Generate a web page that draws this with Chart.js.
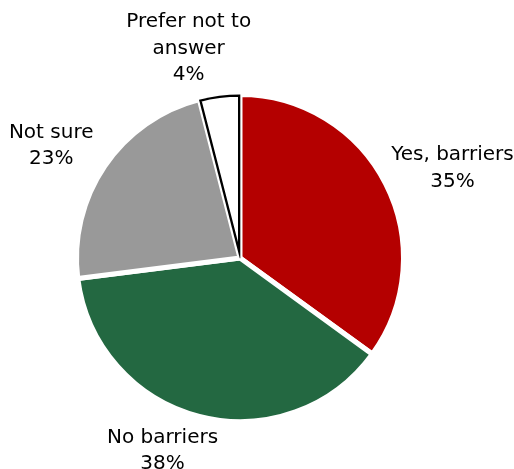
<!DOCTYPE html>
<html>
<head>
<meta charset="utf-8">
<script src="https://cdn.jsdelivr.net/npm/chart.js@4/dist/chart.umd.min.js"></script>
<style>
  html, body { margin: 0; padding: 0; background: #fff; }
  canvas { display: block; }
</style>
</head>
<body>
<canvas id="pie" width="514" height="469"></canvas>
<script>
// survey answers
const categories = ['Yes, barriers', 'No barriers', 'Not sure', 'Prefer not to answer'];
const shares = [35, 38, 23, 4];
const labelLines = [['Yes, barriers'], ['No barriers'], ['Not sure'], ['Prefer not to', 'answer']];

const fills = ['#b40000', '#236841', '#999999', '#ffffff'];
const edges = ['#ffffff', '#ffffff', '#ffffff', '#000000'];
const edgeWidths = [5, 5, 5, 2];
// small hand nudges for the outside labels (px)
const labelNudge = [[5, 0], [-21, 1], [-12, -1], [-22, 0]];

const FONT = '20px "DejaVu Sans", Verdana, sans-serif';
const LINE_H = 26.5;

// labels placed just outside each slice, like an outside-end data label
const outsideLabels = {
  id: 'outsideLabels',
  afterDatasetsDraw(chart) {
    const ctx = chart.ctx;
    const meta = chart.getDatasetMeta(0);
    ctx.save();
    ctx.font = FONT;
    ctx.fillStyle = '#000';
    ctx.textAlign = 'center';
    ctx.textBaseline = 'middle';
    meta.data.forEach((arc, i) => {
      const lines = labelLines[i].concat([shares[i] + '%']);
      const mid = (arc.startAngle + arc.endAngle) / 2;
      const cos = Math.cos(mid), sin = Math.sin(mid);
      const r = arc.outerRadius + 8;
      const px = arc.x + cos * r, py = arc.y + sin * r;
      const w = Math.max(...lines.map(l => ctx.measureText(l).width));
      const h = lines.length * LINE_H;
      const cx = px + cos * w / 2 + labelNudge[i][0];
      const cy = py + sin * h / 2 + labelNudge[i][1];
      lines.forEach((l, k) => {
        ctx.fillText(l, cx, cy - h / 2 + LINE_H * (k + 0.5));
      });
    });
    ctx.restore();
  }
};

new Chart(document.getElementById('pie'), {
  type: 'pie',
  data: {
    labels: categories,
    datasets: [{
      data: shares,
      backgroundColor: fills,
      borderColor: edges,
      borderWidth: edgeWidths,
      borderAlign: c => c.dataIndex === 3 ? 'inner' : 'center'
    }]
  },
  options: {
    responsive: false,
    animation: false,
    layout: { padding: { left: 74, right: 108, top: 92, bottom: 45 } },
    plugins: {
      legend: { display: false },
      tooltip: { enabled: false }
    }
  },
  plugins: [outsideLabels]
});
</script>
</body>
</html>
